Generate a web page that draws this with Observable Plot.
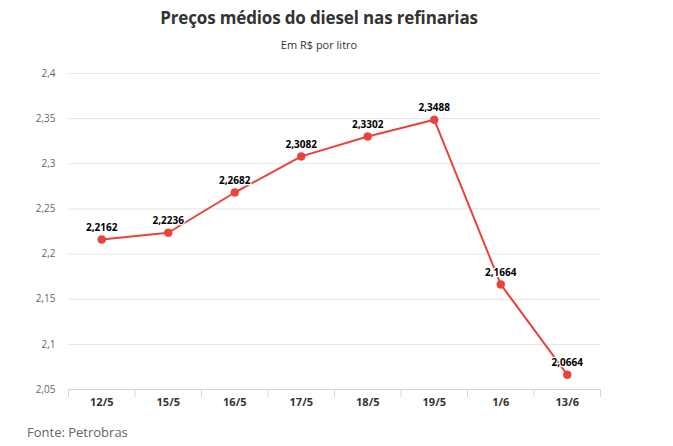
<!DOCTYPE html>
<html>
<head>
<meta charset="utf-8">
<script src="https://cdn.jsdelivr.net/npm/d3@7"></script>
<script src="https://cdn.jsdelivr.net/npm/@observablehq/plot@0.6"></script>
<style>
  body { margin: 0; background: #fff; font-family: "Open Sans", sans-serif; }
  #wrap { width: 673px; position: relative; }
  .title { height: 36px; line-height: 36px; font-size: 17px; font-weight: 700; color: #333; text-align: center; width: 638px; letter-spacing: -0.15px; }
  .subtitle { height: 18px; line-height: 18px; font-size: 11px; color: #333; text-align: center; width: 638px; }
  .caption { height: 26px; line-height: 26px; font-size: 13px; color: #666; padding-left: 27px; }
</style>
</head>
<body>
<div id="wrap">
  <div class="title">Preços médios do diesel nas refinarias</div>
  <div class="subtitle">Em R$ por litro</div>
  <div id="chart"></div>
  <div class="caption">Fonte: Petrobras</div>
</div>
<script>
const dates = ["12/5", "15/5", "16/5", "17/5", "18/5", "19/5", "1/6", "13/6"];
const prices = [2.2162, 2.2236, 2.2682, 2.3082, 2.3302, 2.3488, 2.1664, 2.0664];
const yTicks = [2.05, 2.1, 2.15, 2.2, 2.25, 2.3, 2.35, 2.4];

const data = dates.map((d, i) => ({date: d, price: prices[i]}));
const fmtComma = v => String(v).replace(".", ",");

const width = 673, marginLeft = 68, marginRight = 73;
const step = (width - marginLeft - marginRight) / dates.length;
const red = "#e8433d";

const chart = Plot.plot({
  width,
  height: 365,
  marginTop: 19,
  marginBottom: 30,
  marginLeft,
  marginRight,
  style: {fontFamily: "Open Sans, sans-serif", background: "#fff"},
  x: {type: "point", domain: dates, padding: 0.5, round: false, label: null},
  y: {domain: [2.05, 2.4], label: null},
  marks: [
    Plot.gridY(yTicks, {stroke: "#e6e6e6", strokeOpacity: 1}),
    Plot.ruleY([2.05], {stroke: "#ccd6eb"}),
    Plot.ruleX(dates, {x: d => d, y1: 2.05, y2: 2.05, insetBottom: -8, dx: -step / 2, stroke: "#ccd6eb"}),
    Plot.ruleX([dates[dates.length - 1]], {x: d => d, y1: 2.05, y2: 2.05, insetBottom: -8, dx: step / 2, stroke: "#ccd6eb"}),
    Plot.axisY(yTicks, {tickSize: 0, tickPadding: 13, tickFormat: fmtComma, fontSize: 10, fill: "#666", label: null}),
    Plot.axisX({tickSize: 0, tickPadding: 9, fontSize: 11, fontWeight: 700, fill: "#333", label: null}),
    Plot.line(data, {x: "date", y: "price", stroke: red, strokeWidth: 2}),
    Plot.dot(data, {x: "date", y: "price", r: 4, fill: red, stroke: red, strokeWidth: 0.5}),
    Plot.text(data, {x: "date", y: "price", text: d => fmtComma(d.price), dy: -12, fontSize: 10, fontWeight: 700, fill: "#000", stroke: "#fff", strokeWidth: 2.5, paintOrder: "stroke"})
  ]
});
document.getElementById("chart").appendChild(chart);
</script>
</body>
</html>
